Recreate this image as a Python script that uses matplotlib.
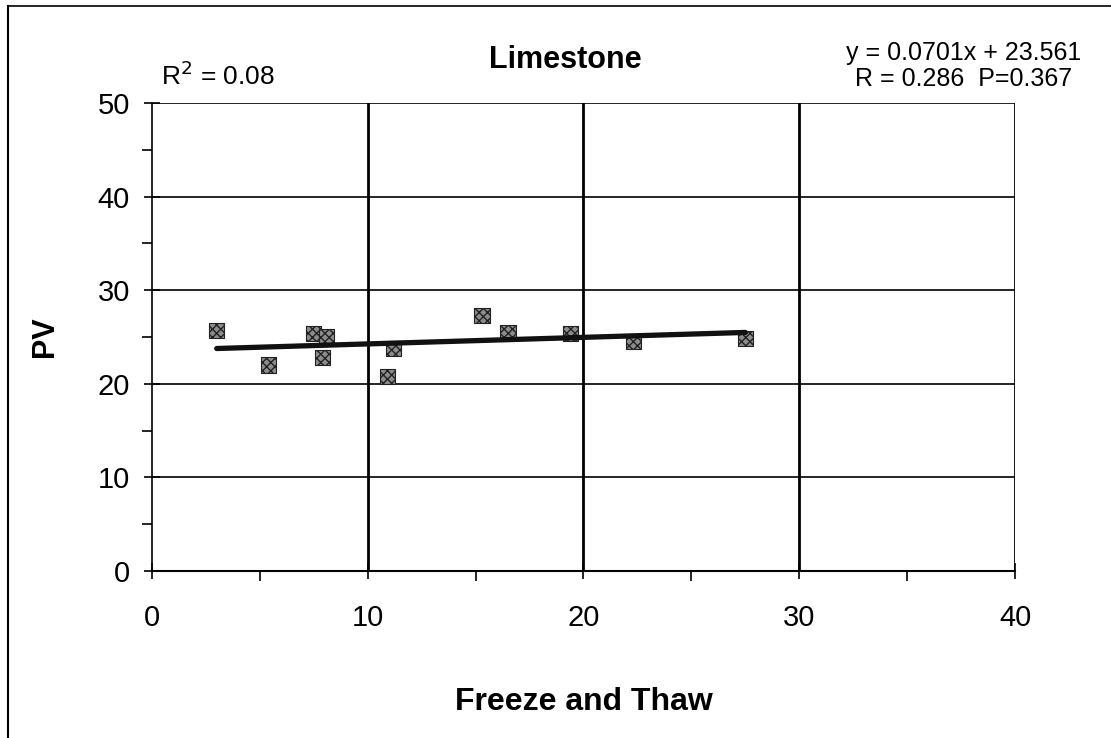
import matplotlib.pyplot as plt
from matplotlib.lines import Line2D
from matplotlib.ticker import MultipleLocator

plt.rcParams['font.family'] = ['Liberation Sans', 'DejaVu Sans']

# data
freeze_thaw = [3.0, 5.4, 7.5, 8.1, 7.9, 10.9, 11.2, 15.3, 16.5, 19.4, 22.3, 27.5]
pv = [25.7, 22.0, 25.4, 25.0, 22.8, 20.8, 23.8, 27.3, 25.5, 25.4, 24.5, 24.8]
slope, intercept = 0.0701, 23.561
fit_x = [min(freeze_thaw), max(freeze_thaw)]

fig = plt.figure(figsize=(11.11, 7.38), dpi=100)
ax = fig.add_axes([0.1368, 0.2263, 0.7768, 0.6341])

ax.scatter(freeze_thaw, pv, marker='s', s=120, facecolor='#8c8c8c',
           edgecolor='#222222', linewidth=0.8, hatch='xxxx', zorder=3)
ax.plot(fit_x, [slope * v + intercept for v in fit_x], color='#111111',
        linewidth=3.8, solid_capstyle='round', zorder=4)

ax.set_xlim(0, 40)
ax.set_ylim(0, 50)
ax.xaxis.set_major_locator(MultipleLocator(10))
ax.xaxis.set_minor_locator(MultipleLocator(5))
ax.yaxis.set_major_locator(MultipleLocator(10))
ax.yaxis.set_minor_locator(MultipleLocator(5))
ax.tick_params(which='major', direction='inout', length=12, width=1.2,
               labelsize=21, colors='black')
ax.tick_params(which='minor', direction='out', length=7, width=1.2)
ax.tick_params(axis='x', which='major', pad=18)
ax.tick_params(axis='y', which='major', pad=10)

for v in [10, 20, 30, 40]:
    ax.axvline(v, color='black', linewidth=2.0, zorder=1)
for v in [10, 20, 30, 40, 50]:
    ax.axhline(v, color='black', linewidth=1.2, zorder=1)

ax.spines['top'].set_visible(False)
ax.spines['right'].set_visible(False)
ax.spines['left'].set_linewidth(1.2)
ax.spines['bottom'].set_linewidth(1.5)

ax.set_xlabel('Freeze and Thaw', fontsize=23, fontweight='bold')
ax.xaxis.set_label_coords(0.5, -0.247)
ax.set_ylabel('PV', fontsize=22, fontweight='bold')
ax.yaxis.set_label_coords(-0.107, 0.5)

fig.text(0.5085, 0.919, 'Limestone', fontsize=22, fontweight='bold',
         ha='center', va='center')
fig.text(0.145, 0.898, r'R$^2$ = 0.08', fontsize=19, ha='left', va='center')
fig.text(0.867, 0.928, 'y = 0.0701x + 23.561', fontsize=18,
         ha='center', va='center')
fig.text(0.867, 0.893, 'R = 0.286  P=0.367', fontsize=18,
         ha='center', va='center')

# scan frame (top and left edges only)
fig.add_artist(Line2D([0.0072, 1.0], [0.992, 0.992], color='black', linewidth=1.2))
fig.add_artist(Line2D([0.0072, 0.0072], [0.0, 0.992], color='black', linewidth=1.5))

fig.savefig('out.png', dpi=100)
